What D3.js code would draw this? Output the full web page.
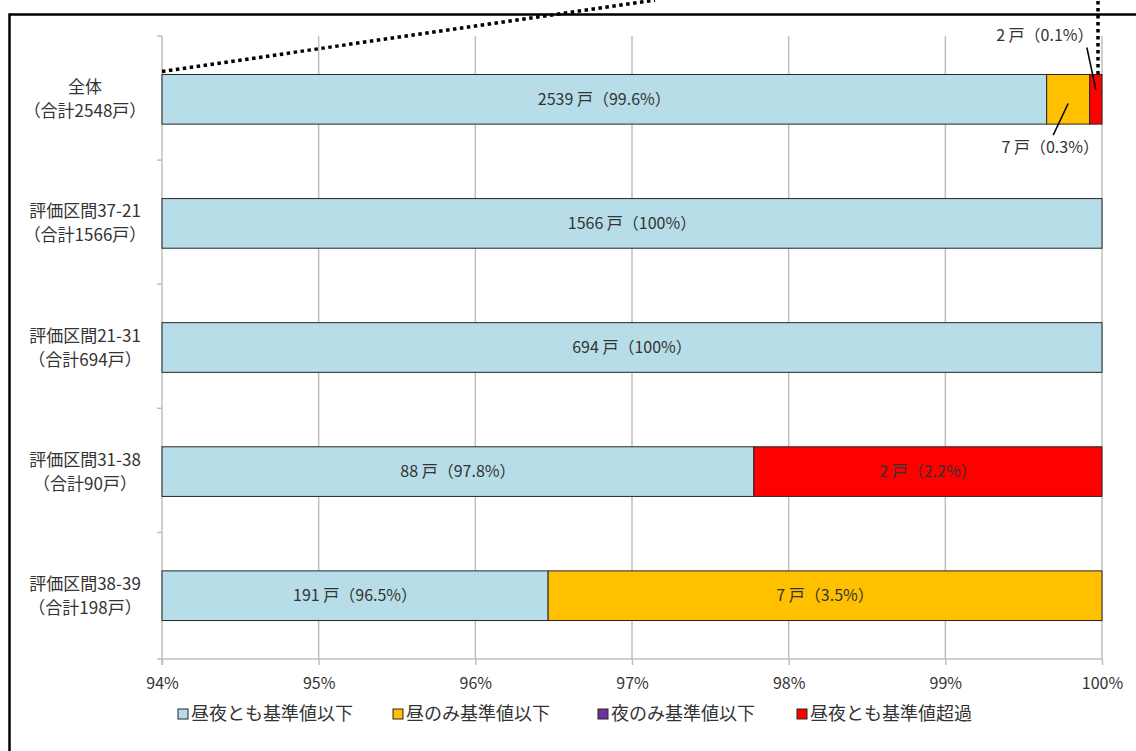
<!DOCTYPE html>
<html>
<head>
<meta charset="utf-8">
<script src="https://cdn.jsdelivr.net/npm/d3@7"></script>
<style>
  body { margin: 0; background: #fff; }
  svg { font-family: "Noto Sans CJK JP", "Noto Sans", sans-serif; }
</style>
</head>
<body>
<svg id="chart"></svg>
<script>
// ===== DATA =====
const categories = ["全体", "評価区間37-21", "評価区間21-31", "評価区間31-38", "評価区間38-39"];
const totals = [2548, 1566, 694, 90, 198];
const seriesNames = ["昼夜とも基準値以下", "昼のみ基準値以下", "夜のみ基準値以下", "昼夜とも基準値超過"];
const bothBelow = [2539, 1566, 694, 88, 191];
const dayOnlyBelow = [7, 0, 0, 0, 7];
const nightOnlyBelow = [0, 0, 0, 0, 0];
const bothAbove = [2, 0, 0, 2, 0];
const xTicks = [0.94, 0.95, 0.96, 0.97, 0.98, 0.99, 1.0];

const colors = ["#B7DDE8", "#FFC000", "#7030A0", "#FF0000"];
const series = [bothBelow, dayOnlyBelow, nightOnlyBelow, bothAbove];
const textColor = "#333333";

function renderChart() {
  const width = 1136;
  const height = 751;
  const svg = d3.select("#chart").attr("width", width).attr("height", height);
  svg.selectAll("*").remove();

  const margin = { top: 36, right: 34, bottom: 92, left: 162 };

  // frame
  svg.append("rect")
    .attr("x", 9.5).attr("y", 14.5)
    .attr("width", 1200).attr("height", 900)
    .attr("fill", "none")
    .attr("stroke", "#000")
    .attr("stroke-width", 2.5);

  const xScale = d3.scaleLinear()
    .domain([0.94, 1.0])
    .range([margin.left, width - margin.right]);

  const yScale = d3.scaleBand()
    .domain(categories)
    .range([margin.top, height - margin.bottom])
    .paddingInner(0.6)
    .paddingOuter(0.31);

  // rows: cumulative shares
  const rows = categories.map((c, i) => {
    let acc = 0;
    const segs = series.map((s, k) => {
      const share = s[i] / totals[i];
      const seg = { cat: c, k, count: s[i], share, x0: acc, x1: acc + share };
      acc += share;
      return seg;
    });
    return segs;
  });

  // gridlines
  svg.append("g")
    .selectAll("line")
    .data(xTicks.slice(1))
    .enter()
    .append("line")
    .attr("x1", d => xScale(d)).attr("x2", d => xScale(d))
    .attr("y1", margin.top).attr("y2", height - margin.bottom)
    .attr("stroke", "#BFBFBF")
    .attr("stroke-width", 1.5);

  // x axis
  const xAxis = svg.append("g")
    .attr("transform", `translate(0,${height - margin.bottom})`)
    .call(d3.axisBottom(xScale).tickValues(xTicks).tickFormat(d3.format(".0%")).tickSize(6).tickSizeOuter(0));
  xAxis.select(".domain").remove();
  xAxis.append("line")
    .attr("x1", margin.left - 5).attr("x2", xScale(1.0))
    .attr("stroke", "#BFBFBF").attr("stroke-width", 1.5);
  xAxis.selectAll(".tick line").attr("stroke", "#BFBFBF").attr("stroke-width", 1.5);
  xAxis.selectAll(".tick text")
    .attr("y", 19)
    .attr("fill", textColor)
    .attr("font-size", 16)
    .attr("font-family", "'Noto Sans CJK JP', sans-serif");

  // y axis
  const yAxisG = svg.append("g");
  yAxisG.append("line")
    .attr("x1", margin.left).attr("x2", margin.left)
    .attr("y1", margin.top).attr("y2", height - margin.bottom + 6)
    .attr("stroke", "#BFBFBF").attr("stroke-width", 1.5);
  const step = yScale.step();
  const boundaries = d3.range(categories.length).map(i => margin.top + i * step);
  yAxisG.selectAll(".ytick")
    .data(boundaries)
    .enter()
    .append("line")
    .attr("x1", margin.left - 5).attr("x2", margin.left)
    .attr("y1", d => d).attr("y2", d => d)
    .attr("stroke", "#BFBFBF").attr("stroke-width", 1.5);

  // category labels
  const catLabels = svg.append("g")
    .selectAll("text")
    .data(categories)
    .enter()
    .append("text")
    .attr("text-anchor", "middle")
    .attr("font-size", 17)
    .attr("fill", textColor);
  catLabels.append("tspan")
    .attr("x", 85)
    .attr("y", d => yScale(d) + yScale.bandwidth() / 2 - 6)
    .text(d => d);
  catLabels.append("tspan")
    .attr("x", 85)
    .attr("y", (d, i) => yScale(d) + yScale.bandwidth() / 2 + 18)
    .text((d, i) => `（合計${totals[i]}戸）`);

  // bars
  const barG = svg.append("g");
  rows.forEach(segs => {
    barG.selectAll(null)
      .data(segs.filter(s => s.count > 0))
      .enter()
      .append("rect")
      .attr("x", d => xScale(Math.max(0.94, d.x0)))
      .attr("width", d => xScale(Math.min(1, d.x1)) - xScale(Math.max(0.94, d.x0)))
      .attr("y", d => yScale(d.cat))
      .attr("height", yScale.bandwidth())
      .attr("fill", d => colors[d.k])
      .attr("stroke", "#262626")
      .attr("stroke-width", 1);
  });

  // labels
  const fmtLabel = d => {
    const p = d.share * 100;
    const ps = Math.abs(p - 100) < 1e-9 ? "100" : p.toFixed(1);
    return `${d.count} 戸（${ps}%）`;
  };

  const labelG = svg.append("g").attr("font-size", 16).attr("fill", textColor);
  rows.forEach(segs => {
    const visible = segs.filter(s => s.count > 0);
    let outsideCount = 0;
    visible.slice().reverse().forEach(d => {
      const xa = xScale(Math.max(0.94, d.x0));
      const xb = xScale(Math.min(1, d.x1));
      const mid = (xa + xb) / 2;
      const top = yScale(d.cat);
      const bottom = top + yScale.bandwidth();
      if (xb - xa > 130) {
        labelG.append("text")
          .attr("x", mid)
          .attr("y", top + yScale.bandwidth() / 2)
          .attr("dy", "0.35em")
          .attr("text-anchor", "middle")
          .text(fmtLabel(d));
      } else if (outsideCount === 0) {
        // callout above
        labelG.append("line")
          .attr("x1", mid - 9).attr("y1", top - 27)
          .attr("x2", mid).attr("y2", top + 15)
          .attr("stroke", "#000").attr("stroke-width", 1.5);
        labelG.append("text")
          .attr("x", mid - 51)
          .attr("y", top - 39)
          .attr("dy", "0.35em")
          .attr("text-anchor", "middle")
          .text(fmtLabel(d));
        outsideCount++;
      } else {
        // callout below
        labelG.append("line")
          .attr("x1", mid).attr("y1", top + 29)
          .attr("x2", mid - 15).attr("y2", bottom + 11)
          .attr("stroke", "#000").attr("stroke-width", 1.5);
        labelG.append("text")
          .attr("x", mid - 18)
          .attr("y", bottom + 23)
          .attr("dy", "0.35em")
          .attr("text-anchor", "middle")
          .text(fmtLabel(d));
        outsideCount++;
      }
    });
  });

  // zoom-in guide lines (dotted)
  const firstTop = yScale(categories[0]);
  const guide = svg.append("g")
    .attr("stroke", "#000")
    .attr("stroke-width", 3.5)
    .attr("stroke-dasharray", "3.5,3.5")
    .attr("fill", "none");
  guide.append("line")
    .attr("x1", xScale(0.94)).attr("y1", firstTop - 3)
    .attr("x2", 655).attr("y2", 0);
  guide.append("line")
    .attr("x1", xScale(1.0) - 4).attr("y1", firstTop)
    .attr("x2", xScale(1.0) - 4).attr("y2", 0);

  // legend
  const legend = svg.append("g")
    .attr("transform", `translate(0, ${height - 37})`);
  const legendX = [178, 393, 598, 797];
  seriesNames.forEach((name, i) => {
    legend.append("rect")
      .attr("x", legendX[i]).attr("y", -5)
      .attr("width", 10).attr("height", 10)
      .attr("fill", colors[i])
      .attr("stroke", "#262626")
      .attr("stroke-width", 1);
    legend.append("text")
      .attr("x", legendX[i] + 13)
      .attr("y", 0)
      .attr("dy", "0.35em")
      .attr("font-size", 18)
      .attr("fill", textColor)
      .text(name);
  });
}

renderChart();
</script>
</body>
</html>
